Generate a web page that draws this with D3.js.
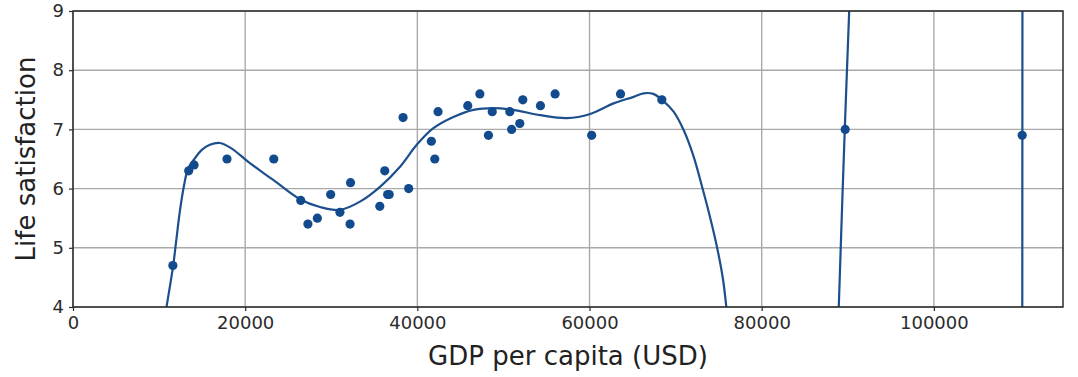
<!DOCTYPE html>
<html>
<head>
<meta charset="utf-8">
<script src="https://cdn.jsdelivr.net/npm/d3@7"></script>
<style>
  body { margin: 0; background: #fff; }
  svg { display: block; font-family: "DejaVu Sans", sans-serif; }
</style>
</head>
<body>
<div id="chart"></div>
<script>
// scatter data: GDP per capita vs life satisfaction
const gdp = [11600, 13441, 14064, 17888, 23325, 26456, 27287, 28385, 29932, 31008,
  32181, 32238, 35638, 36215, 36548, 36732, 38341, 38992, 41627, 42026,
  42404, 45857, 47260, 48260, 48700, 50740, 50950, 51900, 52250, 54300,
  56000, 60250, 63600, 68400, 89700, 110260];
const lifeSat = [4.7, 6.3, 6.4, 6.5, 6.5, 5.8, 5.4, 5.5, 5.9, 5.6,
  5.4, 6.1, 5.7, 6.3, 5.9, 5.9, 7.2, 6.0, 6.8, 6.5,
  7.3, 7.4, 7.6, 6.9, 7.3, 7.3, 7.0, 7.1, 7.5, 7.4,
  7.6, 6.9, 7.6, 7.5, 7.0, 6.9];

// polynomial fit curve (null = break between branches)
const fitGdp = [10600, 10860, 11628, 12023, 12407, 12907, 13372, 14151, 14930, 15895,
  17058, 18400, 20547, 23221, 26360, 28686, 31012, 33337, 35663, 37988,
  39930, 41860, 44186, 46512, 48837, 51163, 54267, 57372, 60081, 62791,
  65116, 66279, 67407, 68419, 69767, 70930, 72050, 73170, 74080, 74884,
  75512, 75895, 76050,
  null,
  88900, 88953, 89651, 90163, 90220,
  null,
  110270, 110280, 110290];
const fitSat = [3.77, 4.0, 4.69, 5.16, 5.61, 6.06, 6.34, 6.51, 6.65, 6.74,
  6.77, 6.68, 6.43, 6.15, 5.82, 5.69, 5.64, 5.78, 6.03, 6.37,
  6.74, 7.02, 7.21, 7.33, 7.36, 7.33, 7.24, 7.19, 7.26, 7.44,
  7.55, 7.61, 7.6, 7.5, 7.3, 6.99, 6.56, 5.98, 5.47, 4.96,
  4.46, 4.0, 3.8,
  null,
  3.7, 4.0, 7.0, 9.0, 9.3,
  null,
  3.5, 6.9, 9.5];

const xTicks = [0, 20000, 40000, 60000, 80000, 100000];
const yTicks = [4, 5, 6, 7, 8, 9];

const width = 1078, height = 377;
const margin = { t: 11, r: 15, b: 70, l: 73 };
const w = width - margin.l - margin.r;
const h = height - margin.t - margin.b;

const blue = "#124a8e";

const svg = d3.select("#chart").append("svg")
  .attr("width", width)
  .attr("height", height);

const g = svg.append("g").attr("transform", `translate(${margin.l},${margin.t})`);

const x = d3.scaleLinear().domain([0, 115000]).range([0, w]);
const y = d3.scaleLinear().domain([4, 9]).range([h, 0]);

svg.append("defs").append("clipPath").attr("id", "plot-clip")
  .append("rect").attr("width", w).attr("height", h);

// grid
g.append("g").selectAll("line").data(xTicks).join("line")
  .attr("x1", d => x(d)).attr("x2", d => x(d))
  .attr("y1", 0).attr("y2", h)
  .attr("stroke", "#a9a9a9").attr("stroke-width", 1.4);
g.append("g").selectAll("line").data(yTicks).join("line")
  .attr("x1", 0).attr("x2", w)
  .attr("y1", d => y(d)).attr("y2", d => y(d))
  .attr("stroke", "#a9a9a9").attr("stroke-width", 1.4);

// fit curve
const line = d3.line()
  .defined((d, i) => fitGdp[i] !== null)
  .x((d, i) => x(fitGdp[i]))
  .y((d, i) => y(fitSat[i]))
  .curve(d3.curveCatmullRom.alpha(0.5));

g.append("path")
  .datum(fitGdp)
  .attr("clip-path", "url(#plot-clip)")
  .attr("d", line)
  .attr("fill", "none")
  .attr("stroke", "#1c4f8c")
  .attr("stroke-width", 2.2);

// points
g.append("g").selectAll("circle").data(gdp).join("circle")
  .attr("cx", d => x(d))
  .attr("cy", (d, i) => y(lifeSat[i]))
  .attr("r", 4.6)
  .attr("fill", blue);

// frame
g.append("rect").attr("width", w).attr("height", h)
  .attr("fill", "none").attr("stroke", "#2b2b2b").attr("stroke-width", 1.5);

// axes
const xAxis = g.append("g").attr("transform", `translate(0,${h})`)
  .call(d3.axisBottom(x).tickValues(xTicks).tickFormat(d3.format("d")).tickSize(4).tickPadding(5));
const yAxis = g.append("g")
  .call(d3.axisLeft(y).tickValues(yTicks).tickFormat(d3.format("d")).tickSize(4).tickPadding(5));

[xAxis, yAxis].forEach(a => {
  a.select(".domain").remove();
  a.selectAll(".tick line").attr("stroke", "#2b2b2b").attr("stroke-width", 1.2);
  a.selectAll(".tick text")
    .attr("fill", "#2b2b2b")
    .attr("font-size", "18px")
    .attr("font-family", "DejaVu Sans, sans-serif");
});

// labels
svg.append("text")
  .attr("x", margin.l + w / 2)
  .attr("y", 365)
  .attr("text-anchor", "middle")
  .attr("font-size", "26px")
  .attr("fill", "#222")
  .text("GDP per capita (USD)");

svg.append("text")
  .attr("transform", `translate(35,${margin.t + h / 2}) rotate(-90)`)
  .attr("text-anchor", "middle")
  .attr("font-size", "26px")
  .attr("fill", "#222")
  .text("Life satisfaction");
</script>
</body>
</html>
